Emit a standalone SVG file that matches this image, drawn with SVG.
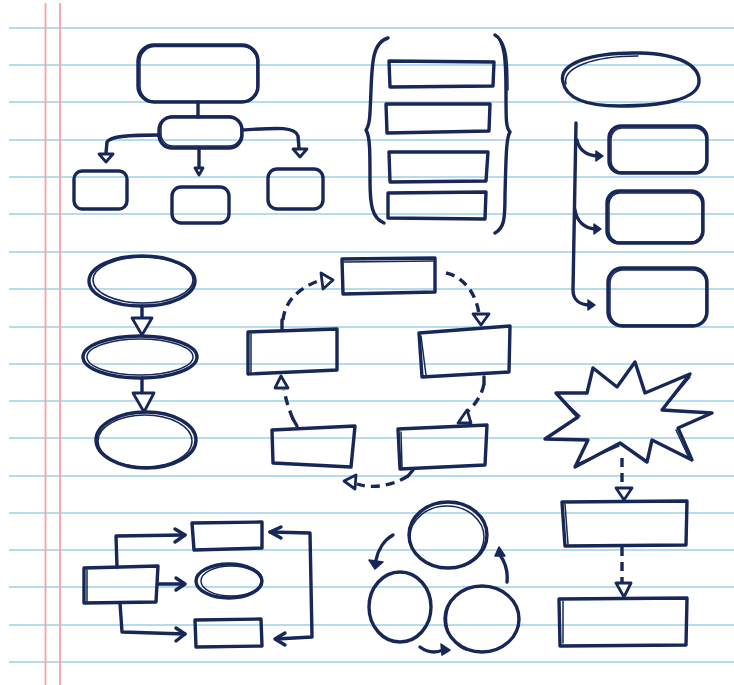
<svg xmlns="http://www.w3.org/2000/svg" width="734" height="685" viewBox="0 0 734 685">
<defs>
<style>
.bl{stroke:#b6dcec;stroke-width:2;fill:none}
.rl{stroke:#f3a3a3;stroke-width:1.8;fill:none}
.ink{fill:none;stroke:#172758;stroke-width:3.4;stroke-linecap:round;stroke-linejoin:round}
.in2{fill:none;stroke:#172758;stroke-width:1.5;stroke-linecap:round;stroke-linejoin:round}
.dash{fill:none;stroke:#172758;stroke-width:3.4;stroke-dasharray:9 6;stroke-linecap:butt}
.tri{fill:#fff;stroke:#172758;stroke-width:2.8;stroke-linejoin:round}
.head{fill:#172758;stroke:#172758;stroke-width:1.5;stroke-linejoin:round}
</style>
</defs>
<rect width="734" height="685" fill="#fff"/>
<g id="paper">
<path class="bl" d="M9 28H734M9 65H734M9 102H734M9 140H734M9 177H734M9 214H734M9 252H734M9 289H734M9 327H734M9 364H734M9 401H734M9 438H734M9 476H734M9 513H734M9 550H734M9 587H734M9 625H734M9 662H734"/>
<path class="rl" d="M45.5 3V685M60 3V685"/>
</g>

<g id="tree">
<rect class="ink" x="138" y="45" width="120" height="57" rx="16"/>
<rect class="in2" x="140" y="46.5" width="117" height="55" rx="15"/>
<rect class="ink" x="159" y="117" width="83" height="31" rx="13"/>
<rect class="in2" x="161" y="116" width="80" height="30" rx="12"/>
<rect class="ink" x="74" y="171" width="53" height="38" rx="8"/>
<rect class="ink" x="172" y="187" width="57" height="36" rx="9"/>
<rect class="ink" x="268" y="169" width="55" height="40" rx="9"/>
</g>
<g id="brackets">
<path class="ink" d="M388 38C373 42 372 62 371 90C370 115 370 125 366 130C370 136 370 152 370 180C370 205 372 218 384 223"/>
<path class="ink" d="M495 35C505 40 506 60 506 95C506 120 506 128 510 132C506 138 506 160 505 195C505 220 504 228 495 233"/>
<path class="in2" d="M498 37C507 44 508 60 508 90"/>
<path class="ink" d="M389 61L494 62L493 86L390 87Z"/>
<path class="ink" d="M386 104L490 104L489 131L387 133Z"/>
<path class="ink" d="M389 152L488 152L486 181L390 182Z"/>
<path class="ink" d="M388 193L486 192L485 219L388 218Z"/>
</g>
<g id="branch-list">
<path class="ink" d="M563 82C558 64 590 52 640 53C680 54 700 66 699 82C698 100 660 106 620 106C585 106 566 98 563 82Z"/>
<path class="in2" d="M566 84C562 68 592 56 638 56"/>
<rect class="ink" x="609" y="126" width="98" height="47" rx="12"/>
<rect class="in2" x="611" y="128" width="95" height="44" rx="11"/>
<rect class="ink" x="607" y="191" width="96" height="52" rx="12"/>
<rect class="in2" x="609" y="193" width="93" height="49" rx="11"/>
<rect class="ink" x="608" y="268" width="99" height="58" rx="14"/>
<rect class="in2" x="610" y="270" width="96" height="55" rx="13"/>
</g>
<g id="ellipse-chain">
<ellipse class="ink" cx="142" cy="281" rx="53" ry="25"/>
<ellipse class="in2" cx="143" cy="280" rx="50" ry="23"/>
<ellipse class="ink" cx="140" cy="357" rx="57" ry="21"/>
<ellipse class="in2" cx="140" cy="357" rx="53" ry="18"/>
<ellipse class="ink" cx="146" cy="440" rx="50" ry="28"/>
<ellipse class="in2" cx="145" cy="441" rx="47" ry="26"/>
</g>
<g id="cycle">
<path class="ink" d="M342 259L435 258L435 292L343 294Z"/>
<path class="in2" d="M344 262L433 261"/>
<path class="ink" d="M419 333L510 326L509 372L422 377Z"/>
<path class="in2" d="M421 336L426 375"/>
<path class="ink" d="M248 332L337 329L337 370L248 374Z"/>
<path class="in2" d="M251 334L251 372"/>
<path class="ink" d="M272 430L355 426L351 467L273 463Z"/>
<path class="ink" d="M398 429L487 425L485 465L400 469Z"/>
<path class="in2" d="M401 432L402 467"/>
</g>
<g id="starburst">
<path class="ink" d="M545 439L578 417L556 393L587 393L593 368L617 387L635 362L645 393L690 374L662 410L712 413L678 428L692 460L652 440L647 462L620 443L575 467L588 440Z"/>
<path class="in2" d="M558 396L580 416M690 377L664 408M689 458L676 430M577 464L619 446"/>
<path class="ink" d="M562 502L687 501L686 545L565 546Z"/>
<path class="in2" d="M565 504L568 544"/>
<path class="ink" d="M559 599L687 598L686 645L560 646Z"/>
<path class="in2" d="M563 601L563 643"/>
</g>
<g id="fanout">
<path class="ink" d="M84 568L158 566L156 602L84 603Z"/>
<path class="in2" d="M87 570L87 601"/>
<path class="ink" d="M192 523L262 522L262 548L194 550Z"/>
<ellipse class="ink" cx="229" cy="581" rx="33" ry="17"/>
<ellipse class="in2" cx="231" cy="581" rx="30" ry="15"/>
<path class="ink" d="M195 620L261 619L262 646L196 647Z"/>
</g>
<g id="circles">
<ellipse class="ink" cx="448" cy="535" rx="39" ry="33"/>
<ellipse class="in2" cx="447" cy="537" rx="37" ry="31"/>
<ellipse class="ink" cx="400" cy="607" rx="31" ry="35"/>
<ellipse class="ink" cx="482" cy="619" rx="37" ry="33"/>
<path class="in2" d="M458 594C442 605 441 640 466 650"/>
</g>

<g id="connectors">
<path class="ink" d="M198 102V117"/>
<path class="ink" d="M159 135C130 135 110 136 107 142L106 153"/>
<path class="tri" d="M99 154L113 154L106 162Z"/>
<path class="ink" d="M199 148V168"/>
<path class="tri" d="M195 168L203 168L199 175Z"/>
<path class="ink" d="M242 130C275 128 295 126 298 136L299 148"/>
<path class="tri" d="M293 149L307 149L300 157Z"/>

<path class="ink" d="M576 123L573 290C573 300 580 305 590 305"/>
<path class="ink" d="M577 140C579 150 586 155 597 156"/>
<path class="ink" d="M575 210C577 222 585 228 595 229"/>
<path class="head" d="M596 151L603 156L596 161Z"/>
<path class="head" d="M594 224L601 229L594 234Z"/>
<path class="head" d="M588 300L595 305L588 310Z"/>

<path class="ink" d="M142 306V319"/>
<path class="tri" d="M132 318L152 318L142 335Z"/>
<path class="ink" d="M142 378V393"/>
<path class="tri" d="M133 393L154 393L144 412Z"/>

<path class="dash" d="M446 273C462 276 476 292 479 314"/>
<path class="tri" d="M473 314L489 314L481 325Z"/>
<path class="ink" d="M484 377V384"/>
<path class="dash" d="M484 384C482 394 476 404 468 411"/>
<path class="tri" d="M458 423L471 423L467 410Z"/>
<path class="ink" d="M413 470L408 476"/>
<path class="dash" d="M408 476C392 486 372 489 357 484"/>
<path class="tri" d="M344 481L356 475L355 489Z"/>
<path class="ink" d="M297 426L293 419"/>
<path class="dash" d="M293 419C289 410 286 400 284 390"/>
<path class="tri" d="M275 388L288 388L281 376Z"/>
<path class="ink" d="M282 329V320"/>
<path class="dash" d="M283 320C285 300 300 288 318 281"/>
<path class="tri" d="M321 273L333 280L323 289Z"/>

<path class="dash" d="M622 458V488" stroke-dasharray="8 5"/>
<path class="tri" d="M616 488L632 488L624 500Z"/>
<path class="dash" d="M622 547V583" stroke-dasharray="8 5"/>
<path class="tri" d="M616 583L631 583L624 597Z"/>

<path class="ink" d="M117 567L116 536L185 535"/>
<path class="ink" d="M175 529L185 535L175 542"/>
<path class="ink" d="M158 584L184 584"/>
<path class="ink" d="M176 578L185 584L176 590"/>
<path class="ink" d="M120 603L122 632L185 634"/>
<path class="ink" d="M176 628L185 634L176 641"/>
<path class="ink" d="M270 532L310 533L312 637L276 639"/>
<path class="ink" d="M281 527L270 532L281 538"/>
<path class="ink" d="M285 633L275 639L285 645"/>

<path class="ink" d="M393 535C384 540 378 550 376 560"/>
<path class="head" d="M369 560L383 562L375 569Z"/>
<path class="ink" d="M420 647C428 653 436 653 443 650"/>
<path class="head" d="M441 644L450 650L442 655Z"/>
<path class="ink" d="M507 582C508 572 505 562 500 555"/>
<path class="head" d="M495 556L499 547L505 556Z"/>
</g>
</svg>
